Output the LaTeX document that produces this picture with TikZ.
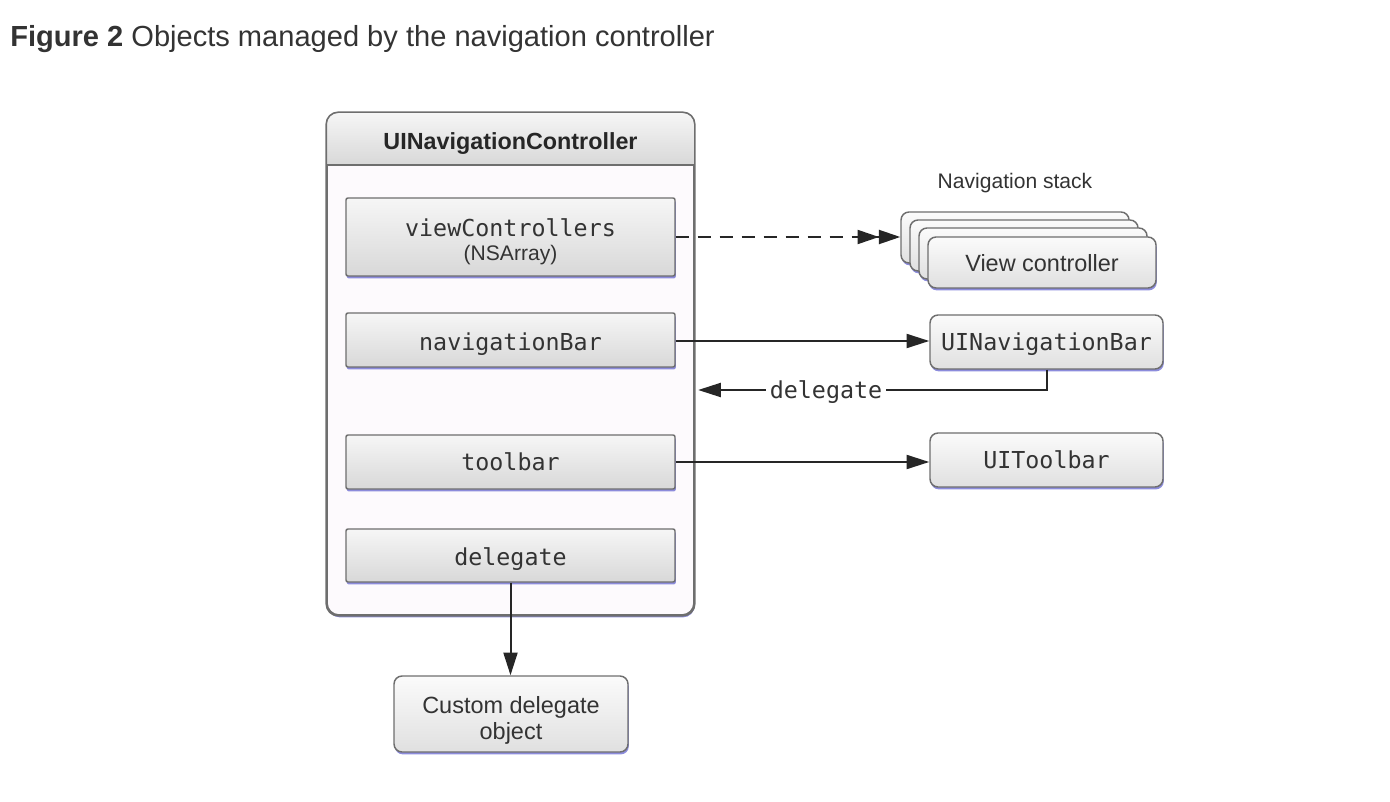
\documentclass[tikz,border=0pt]{standalone}
\usepackage{fontspec}
\setmainfont{Liberation Sans}
\setmonofont{DejaVu Sans Mono}
\usetikzlibrary{arrows.meta,shadows}
\definecolor{txt}{HTML}{333333}
\definecolor{bord}{HTML}{6E6E6E}
\definecolor{shad}{HTML}{8080D8}
\definecolor{bodyc}{HTML}{FDFAFD}
\definecolor{boxtop}{HTML}{F6F6F6}
\definecolor{boxbot}{HTML}{D8D8D8}
\definecolor{rtop}{HTML}{FBFBFB}
\definecolor{rbot}{HTML}{E0E0E0}
\newcommand\mymono{\ttfamily\fontsize{17.5}{20}\selectfont}
\newcommand\mysans{\fontsize{17.6}{19.5}\selectfont}
\newcommand\mysmall{\fontsize{15.8}{19.5}\selectfont}
\begin{document}
\begin{tikzpicture}[x=0.75pt,y=-0.75pt,
  myshadow/.style={drop shadow={shadow xshift=0.6pt,shadow yshift=-1.8pt,fill=shad,opacity=0.9}},
  innerbox/.style={draw=bord,line width=1.1pt,rounded corners=1.5pt,top color=boxtop,bottom color=boxbot,
    minimum width=329*0.75pt,inner sep=0pt,text=txt,align=center,text depth=0pt,myshadow},
  rightbox/.style={draw=bord,line width=1.1pt,rounded corners=6pt,top color=rtop,bottom color=rbot,
    inner sep=0pt,text=txt,align=center,text depth=0pt,myshadow},
  card/.style={rightbox,minimum width=228*0.75pt,minimum height=51*0.75pt},
  lbl/.style={inner sep=0pt,text=txt,text depth=0pt},
  conn/.style={draw=black!85,line width=1.5pt},
  tip/.style={-{Triangle[length=17pt,width=10.5pt]}},
  dtip/.style={-{Triangle[length=16pt,width=10.5pt]Triangle[length=16pt,width=10.5pt]}}
]
\useasboundingbox (0,0) rectangle (1390,802);
% title
\node[anchor=base west,inner sep=0pt,text=txt,font=\fontsize{21.8}{24}\selectfont] (title) at (10,47)
  {\textbf{Figure 2} Objects managed by the navigation controller};
% container
\node[draw=bord,line width=1.2pt,rounded corners=9pt,fill=bodyc,minimum width=367*0.75pt,
  minimum height=502*0.75pt,inner sep=0pt,myshadow] (ctrl) at (510.5,364) {};
\begin{scope}
  \clip[rounded corners=9pt] (ctrl.north west) rectangle (ctrl.south east);
  \shade[top color=boxtop,bottom color=boxbot] (ctrl.north west) rectangle (ctrl.east |- 0,165);
\end{scope}
\draw[bord,line width=1.1pt] (ctrl.west |- 0,165) -- (ctrl.east |- 0,165);
\draw[bord,line width=1.2pt,rounded corners=9pt] (ctrl.north west) rectangle (ctrl.south east);
\node[lbl,text=black!85,font=\bfseries\fontsize{17.5}{20}\selectfont] (hdr) at (510.5,141) {UINavigationController};
% inner boxes
\node[innerbox,minimum height=78*0.75pt] (vc) at (510.5,237) {};
\node[lbl,font=\mymono] (vct) at (510.5,228) {viewControllers};
\node[lbl,font=\mysmall] (vcs) at (510.5,253) {(NSArray)};
\node[innerbox,minimum height=54*0.75pt] (nb) at (510.5,340) {};
\node[lbl,font=\mymono] (nbt) at (510.5,342) {navigationBar};
\node[innerbox,minimum height=54*0.75pt,font=\mymono] (tb) at (510.5,462) {toolbar};
\node[innerbox,minimum height=53*0.75pt] (del) at (510.5,555.5) {};
\node[lbl,font=\mymono] (delt) at (510.5,557) {delegate};
% navigation stack
\node[lbl,font=\mysmall] (navlbl) at (1015,181) {Navigation stack};
\node[card] (c1) at (1015,237.5) {};
\node[card] (c2) at (1024,245.5) {};
\node[card] (c3) at (1033,253.5) {};
\node[card,font=\mysans] (c4) at (1042,262.5) {View controller};
% right boxes
\node[rightbox,minimum width=233*0.75pt,minimum height=54*0.75pt,font=\mymono] (unb) at (1046.5,342) {UINavigationBar};
\node[rightbox,minimum width=233*0.75pt,minimum height=54*0.75pt,font=\mymono] (utb) at (1046.5,460) {UIToolbar};
\node[rightbox,minimum width=234*0.75pt,minimum height=76*0.75pt] (cust) at (511,714) {};
\node[lbl,font=\mysans] (cust1) at (511,705) {Custom delegate};
\node[lbl,font=\mysans] (cust2) at (511,731) {object};
% connectors
\draw[conn,dtip,dash pattern=on 10pt off 6.5pt] (vc.east) -- (vc.east -| c1.west);
\draw[conn,tip] (nb.east) ++(0,1) -- (unb.west |- 0,341);
\draw[conn,tip] (tb.east) -- (tb.east -| utb.west);
\node[fill=white,inner sep=3pt,text=txt,text depth=0pt,font=\mymono] (dlbl) at (826,390) {delegate};
\draw[conn] (unb.south) |- (dlbl.east);
\draw[conn,tip] (dlbl.west) -- ([xshift=2.5pt]ctrl.east |- dlbl.west);
\draw[conn,tip] (del.south) -- (del.south |- cust.north);
\end{tikzpicture}
\end{document}
